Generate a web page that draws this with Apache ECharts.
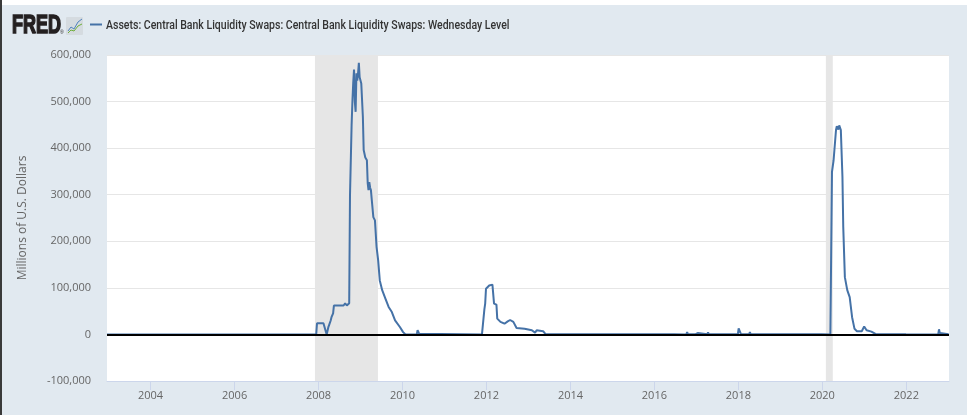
<!DOCTYPE html>
<html>
<head>
<meta charset="utf-8">
<title>Central Bank Liquidity Swaps</title>
<script src="https://cdn.jsdelivr.net/npm/echarts@6/dist/echarts.min.js"></script>
<style>
  html, body { margin: 0; padding: 0; background: #e1e9f0; }
  #chart { width: 967px; height: 415px; }
</style>
</head>
<body>
<div id="chart"></div>
<script>
// weekly level, millions of dollars
var swapDates = [
    '2002-12-18', '2007-12-12', '2007-12-19', '2008-02-13', '2008-03-12', '2008-03-26',
    '2008-04-02', '2008-04-16', '2008-04-23', '2008-05-07', '2008-05-14', '2008-08-06',
    '2008-08-13', '2008-08-20', '2008-09-03', '2008-09-17', '2008-09-24', '2008-10-01',
    '2008-10-15', '2008-10-22', '2008-10-29', '2008-11-05', '2008-11-12', '2008-11-19',
    '2008-11-26', '2008-12-03', '2008-12-10', '2008-12-17', '2008-12-24', '2008-12-31',
    '2009-01-07', '2009-01-21', '2009-01-28', '2009-02-11', '2009-02-25', '2009-03-04',
    '2009-03-11', '2009-03-18', '2009-03-25', '2009-04-01', '2009-04-08', '2009-04-22',
    '2009-05-06', '2009-05-20', '2009-06-03', '2009-06-17', '2009-07-08', '2009-08-05',
    '2009-09-02', '2009-09-30', '2009-10-28', '2009-12-09', '2010-01-06', '2010-01-27',
    '2010-05-05', '2010-05-12', '2010-05-19', '2010-05-26', '2010-06-09', '2011-11-23',
    '2011-12-07', '2011-12-14', '2011-12-21', '2011-12-28', '2012-01-11', '2012-01-25',
    '2012-02-08', '2012-02-22', '2012-03-07', '2012-03-28', '2012-04-04', '2012-05-02',
    '2012-06-06', '2012-07-04', '2012-07-25', '2012-08-22', '2012-09-19', '2012-11-28',
    '2013-01-30', '2013-02-27', '2013-03-13', '2013-05-08', '2013-05-29', '2014-06-04',
    '2015-06-03', '2016-06-22', '2016-06-29', '2016-07-06', '2016-10-05', '2016-10-12',
    '2016-10-19', '2016-10-26', '2016-11-02', '2016-12-21', '2016-12-28', '2017-01-11',
    '2017-01-18', '2017-04-05', '2017-04-12', '2017-04-19', '2017-06-28', '2017-07-05',
    '2017-07-12', '2017-10-04', '2017-10-11', '2017-10-18', '2017-12-27', '2018-01-03',
    '2018-01-17', '2018-01-24', '2018-04-04', '2018-04-11', '2018-04-18', '2018-12-26',
    '2019-01-02', '2019-01-09', '2019-12-25', '2020-01-01', '2020-01-08', '2020-03-11',
    '2020-03-25', '2020-04-08', '2020-04-29', '2020-05-06', '2020-05-20', '2020-05-27',
    '2020-06-10', '2020-06-24', '2020-07-01', '2020-07-15', '2020-08-05', '2020-08-26',
    '2020-09-16', '2020-10-07', '2020-10-28', '2020-12-09', '2020-12-30', '2021-01-20',
    '2021-03-03', '2021-04-07', '2021-12-29', '2022-01-05', '2022-01-12', '2022-10-05',
    '2022-10-12', '2022-10-19', '2022-10-26', '2023-01-04'
];
var swapValues = [
    0, 0, 24000, 24000, 0, 15000,
    20000, 30000, 37000, 45000, 62000, 62000,
    65000, 67000, 62000, 65000, 67000, 300000,
    450000, 500000, 540000, 569000, 500000, 478000,
    561000, 545000, 560000, 583000, 552000, 553000,
    539000, 467000, 396000, 380000, 374000, 325000,
    310000, 327000, 315000, 310000, 290000, 252000,
    245000, 188000, 159000, 116000, 95000, 77000,
    59000, 48000, 30000, 16000, 5000, 0,
    0, 9200, 9200, 1200, 100, 100,
    3000, 54000, 66000, 98000, 95000, 105000,
    108000, 107000, 66000, 64000, 34000, 27000,
    23000, 28000, 31000, 27000, 14000, 12000,
    9000, 4000, 9000, 7000, 500, 200,
    200, 200, 1500, 100, 100, 5000,
    300, 3000, 200, 200, 3500, 3000,
    200, 200, 4500, 200, 200, 2500,
    200, 200, 3500, 200, 200, 13000,
    13000, 200, 200, 5000, 200, 200,
    2000, 200, 200, 4000, 200, 100,
    349000, 374000, 439000, 447000, 440000, 449000,
    439000, 338000, 231000, 123000, 95000, 80000,
    37000, 12000, 7000, 7000, 17000, 9000,
    6000, 1000, 200, 1500, 200, 100,
    11000, 3000, 200, 300
];
var recessions = [
    ['2007-12-01', '2009-06-01'],
    ['2020-02-01', '2020-04-01']
];
var yearTicks = ['2004', '2006', '2008', '2010', '2012', '2014', '2016', '2018', '2020', '2022'];
var seriesName = 'Assets: Central Bank Liquidity Swaps: Central Bank Liquidity Swaps: Wednesday Level';

// dates -> UTC timestamps for the value axis
var swapData = swapDates.map(function(d, i) { return [Date.parse(d), swapValues[i]]; });
var recessionAreas = recessions.map(function(r) {
    return [{ xAxis: Date.parse(r[0]) }, { xAxis: Date.parse(r[1]) }];
});
var tickStamps = yearTicks.map(function(y) { return Date.parse(y + '-01-01'); });

var chart = echarts.init(document.getElementById('chart'));
var option = {
    backgroundColor: '#e1e9f0',
    animation: false,
    textStyle: { fontFamily: 'Open Sans' },
    grid: { left: 107, right: 18, top: 55, bottom: 34, show: true, backgroundColor: '#fff', borderWidth: 0 },
    xAxis: {
        type: 'value',
        min: Date.parse('2002-12-18'),
        max: Date.parse('2023-01-07'),
        axisLine: { onZero: false, lineStyle: { color: '#ccd6eb' } },
        axisTick: { show: true, length: 9, customValues: tickStamps, lineStyle: { color: '#ccd6eb' } },
        axisLabel: {
            customValues: tickStamps,
            color: '#666',
            fontSize: 11,
            margin: 9,
            formatter: function(v) { return String(new Date(v).getUTCFullYear()); }
        },
        splitLine: { show: false }
    },
    yAxis: {
        type: 'value',
        min: -100000,
        max: 600000,
        interval: 100000,
        name: 'Millions of U.S. Dollars',
        nameLocation: 'middle',
        nameGap: 78,
        nameTextStyle: { color: '#666', fontSize: 12 },
        axisLine: { show: false },
        axisTick: { show: false },
        axisLabel: {
            color: '#666',
            fontSize: 11,
            margin: 16,
            formatter: function(v) { return v.toLocaleString('en-US'); }
        },
        splitLine: { lineStyle: { color: '#e6e6e6' } }
    },
    series: [{
        name: seriesName,
        type: 'line',
        data: swapData,
        showSymbol: false,
        color: '#4572a7',
        lineStyle: { color: '#4572a7', width: 2 },
        markArea: {
            silent: true,
            itemStyle: { color: '#e6e6e6' },
            data: recessionAreas
        },
        markLine: {
            silent: true,
            symbol: 'none',
            label: { show: false },
            lineStyle: { color: '#000', width: 2, type: 'solid' },
            data: [{ yAxis: 0 }]
        }
    }],
    graphic: [
        { type: 'rect', left: 0, top: 0, shape: { width: 967, height: 5 }, style: { fill: '#fff' } },
        { type: 'rect', left: 0, top: 0, shape: { width: 2, height: 415 }, style: { fill: '#3a3a3a' } },
        // FRED logo
        { type: 'text', x: 12, y: 26, scaleX: 0.72,
          style: { text: 'FRED', fontSize: 25, fontWeight: 'bold', fontFamily: 'Liberation Sans',
                   fill: '#231f20', stroke: '#231f20', lineWidth: 1.6, verticalAlign: 'middle' } },
        { type: 'text', x: 60, y: 33, style: { text: '®', fontSize: 5, fontFamily: 'Liberation Sans', fill: '#231f20', verticalAlign: 'middle' } },
        { type: 'rect', shape: { x: 66, y: 17, width: 17, height: 18, r: 1 }, style: { fill: '#d5dbe0' } },
        { type: 'polyline', shape: { points: [[68, 31], [71, 27], [74, 29], [78, 22], [82, 19]] },
          style: { stroke: '#4f82bd', lineWidth: 1, fill: null } },
        { type: 'polyline', shape: { points: [[68, 33], [71, 30], [74, 31], [78, 26], [82, 24]] },
          style: { stroke: '#6fae3a', lineWidth: 1, fill: null } },
        // series key
        { type: 'line', shape: { x1: 90, y1: 24.5, x2: 102, y2: 24.5 }, style: { stroke: '#4572a7', lineWidth: 2 } },
        { type: 'text', x: 106, y: 25.5, scaleX: 0.78,
          style: { text: seriesName, fontSize: 13.5, fontWeight: 500, fontFamily: 'Roboto', fill: '#333', verticalAlign: 'middle' } }
    ]
};
chart.setOption(option);
</script>
</body>
</html>
